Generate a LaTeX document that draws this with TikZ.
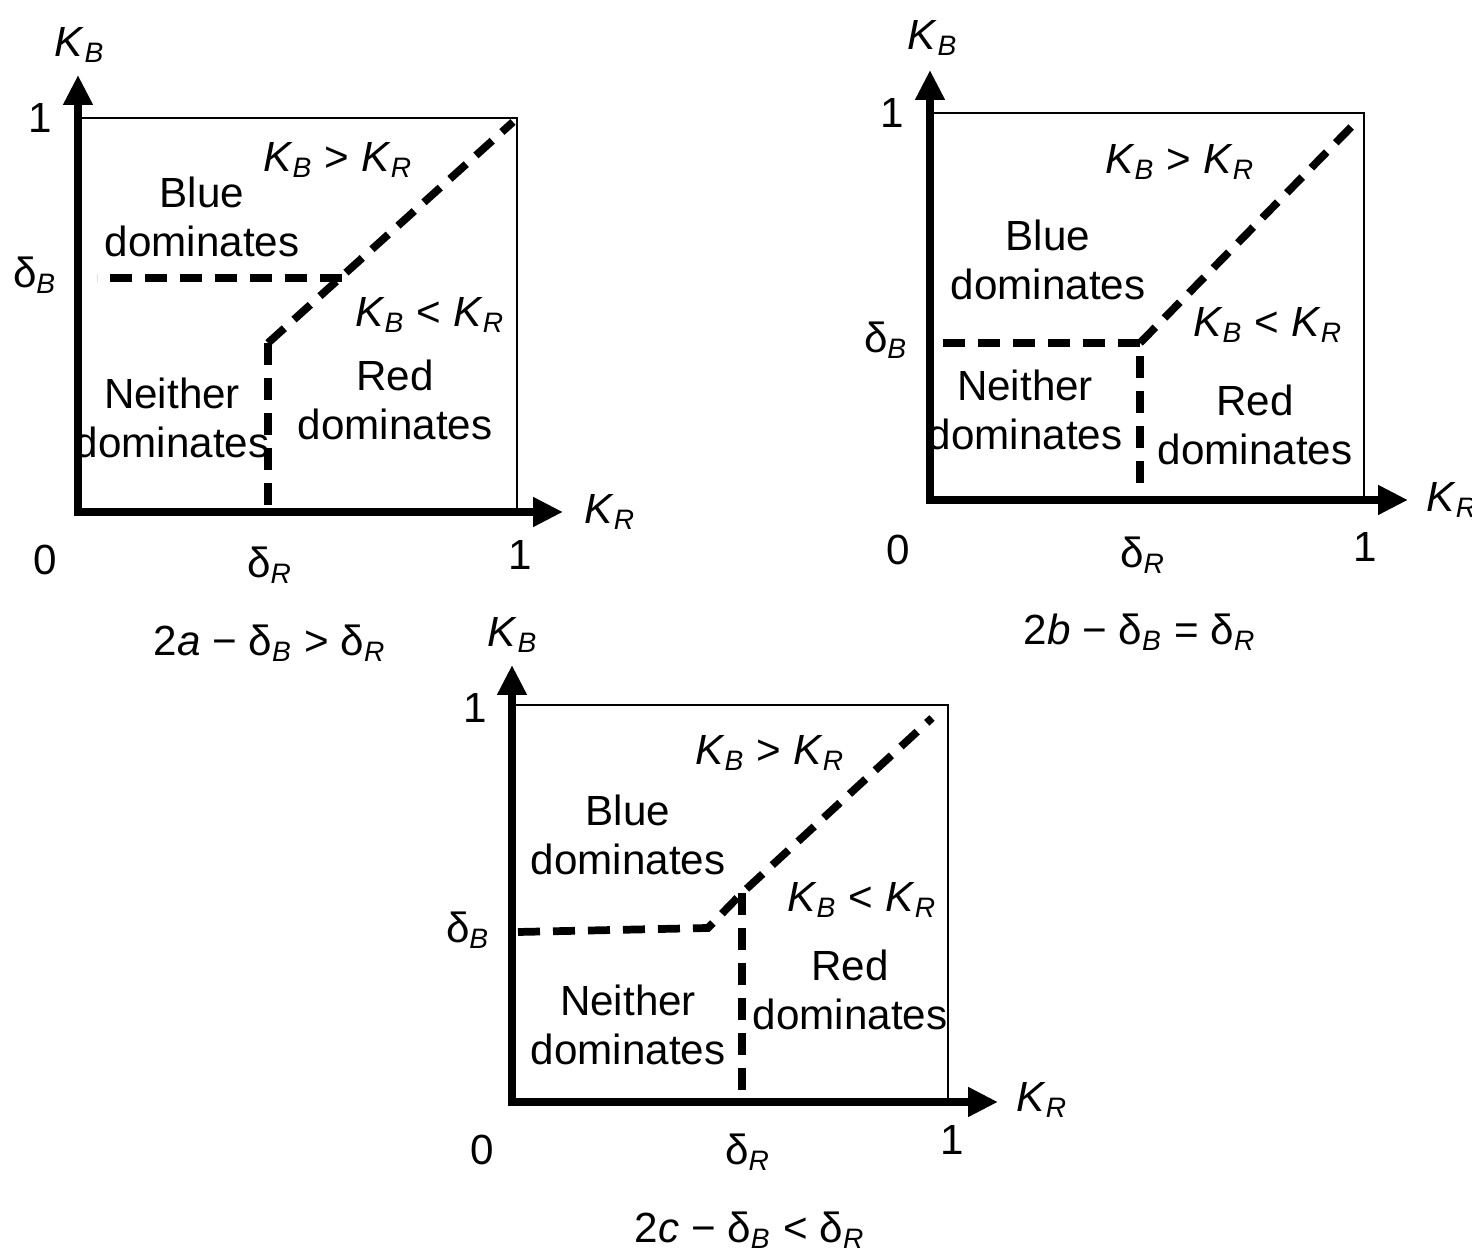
\documentclass[tikz,border=0pt]{standalone}
\usepackage{fontspec}
\setmainfont{Liberation Sans}
\usetikzlibrary{arrows.meta}
\newcommand{\kb}{\textit{K}\textsubscript{\textit{B}}}
\newcommand{\kr}{\textit{K}\textsubscript{\textit{R}}}
\newcommand{\db}{δ\textsubscript{\textit{B}}}
\newcommand{\dr}{δ\textsubscript{\textit{R}}}
\tikzset{
  axis/.style={line width=2.5pt,line cap=rect,-{Triangle[length=3mm,width=2.8mm]}},
  frame/.style={line width=0.6pt},
  bound/.style={line width=2.2pt,dash pattern=on 2.2mm off 1.3mm},
  lbl/.style={font=\fontsize{12}{14}\selectfont,inner sep=1pt},
  region/.style={lbl,align=center},
}
\begin{document}
\begin{tikzpicture}
\useasboundingbox (0,0) rectangle (14.72,12.5);
% panel 2a
\coordinate (a-o) at (0.78,7.38);
\coordinate (a-x) at (5.63,7.38);
\coordinate (a-y) at (0.78,11.75);
\coordinate (a-tr) at (5.17,11.32);
\draw[frame] (a-o |- a-tr) -- (a-tr) -- (a-tr |- a-o);
\draw[axis] (a-o) -- (a-x);
\draw[axis] (a-o) -- (a-y);
\coordinate (a-h) at (0.97,9.72);
\coordinate (a-k) at (3.42,9.72);
\coordinate (a-v) at (2.68,9.07);
\coordinate (a-e) at (5.13,11.28);
\draw[bound] (a-k) -- (a-h);
\draw[bound] (a-v) -- (a-e);
\draw[bound] (a-v) -- (a-v |- a-o);
\node[lbl] (a-kb) at (0.80,12.05) {\kb};
\node[lbl] (a-1y) at (0.40,11.32) {1};
\node[lbl] (a-db) at (0.35,9.75) {\db};
\node[lbl] (a-0) at (0.45,6.90) {0};
\node[lbl] (a-dr) at (2.70,6.85) {\dr};
\node[lbl] (a-1x) at (5.20,6.95) {1};
\node[lbl,anchor=west] (a-kr) at (5.80,7.38) {\kr};
\node[lbl] (a-cap) at (2.70,6.07) {2\textit{a} − \db\ > \dr};
\node[lbl] (a-gt) at (3.38,10.90) {\kb\ > \kr};
\node[region] (a-blue) at (2.02,10.33) {Blue\\dominates};
\node[lbl] (a-lt) at (4.30,9.35) {\kb\ < \kr};
\node[region] (a-none) at (1.72,8.32) {Neither\\dominates};
\node[region] (a-red) at (3.95,8.50) {Red\\dominates};
% panel 2b
\coordinate (b-o) at (9.30,7.50);
\coordinate (b-x) at (14.08,7.50);
\coordinate (b-y) at (9.30,11.80);
\coordinate (b-tr) at (13.64,11.37);
\draw[frame] (b-o |- b-tr) -- (b-tr) -- (b-tr |- b-o);
\draw[axis] (b-o) -- (b-x);
\draw[axis] (b-o) -- (b-y);
\coordinate (b-h) at (9.43,9.07);
\coordinate (b-k) at (11.40,9.07);
\coordinate (b-e) at (13.60,11.32);
\draw[bound] (b-h) -- (b-k) -- (b-k |- b-o);
\draw[bound] (b-k) -- (b-e);
\node[lbl] (b-kb) at (9.33,12.12) {\kb};
\node[lbl] (b-1y) at (8.92,11.37) {1};
\node[lbl] (b-db) at (8.86,9.10) {\db};
\node[lbl] (b-0) at (8.98,7.00) {0};
\node[lbl] (b-dr) at (11.43,6.95) {\dr};
\node[lbl] (b-1x) at (13.65,7.03) {1};
\node[lbl,anchor=west] (b-kr) at (14.22,7.50) {\kr};
\node[lbl] (b-cap) at (11.40,6.18) {2\textit{b} − \db\ = \dr};
\node[lbl] (b-gt) at (11.80,10.88) {\kb\ > \kr};
\node[region] (b-blue) at (10.48,9.90) {Blue\\dominates};
\node[lbl] (b-lt) at (12.68,9.25) {\kb\ < \kr};
\node[region] (b-none) at (10.25,8.40) {Neither\\dominates};
\node[region] (b-red) at (12.55,8.25) {Red\\dominates};
% panel 2c
\coordinate (c-o) at (5.12,1.48);
\coordinate (c-x) at (9.98,1.48);
\coordinate (c-y) at (5.12,5.85);
\coordinate (c-tr) at (9.48,5.45);
\draw[frame] (c-o |- c-tr) -- (c-tr) -- (c-tr |- c-o);
\draw[axis] (c-o) -- (c-x);
\draw[axis] (c-o) -- (c-y);
\coordinate (c-h) at (5.18,3.18);
\coordinate (c-k) at (7.08,3.22);
\coordinate (c-v) at (7.42,3.57);
\coordinate (c-e) at (9.32,5.32);
\draw[bound] (c-h) -- (c-k) -- (c-v) -- (c-e);
\draw[bound] (c-v) -- (c-v |- c-o);
\node[lbl] (c-kb) at (5.13,6.15) {\kb};
\node[lbl] (c-1y) at (4.75,5.42) {1};
\node[lbl] (c-db) at (4.68,3.20) {\db};
\node[lbl] (c-0) at (4.82,1.00) {0};
\node[lbl] (c-dr) at (7.48,0.98) {\dr};
\node[lbl] (c-1x) at (9.52,1.10) {1};
\node[lbl,anchor=west] (c-kr) at (10.12,1.50) {\kr};
\node[lbl] (c-cap) at (7.50,0.20) {2\textit{c} − \db\ < \dr};
\node[lbl] (c-gt) at (7.70,4.97) {\kb\ > \kr};
\node[region] (c-blue) at (6.28,4.15) {Blue\\dominates};
\node[lbl] (c-lt) at (8.62,3.50) {\kb\ < \kr};
\node[region] (c-none) at (6.28,2.25) {Neither\\dominates};
\node[region] (c-red) at (8.50,2.60) {Red\\dominates};
\end{tikzpicture}
\end{document}
